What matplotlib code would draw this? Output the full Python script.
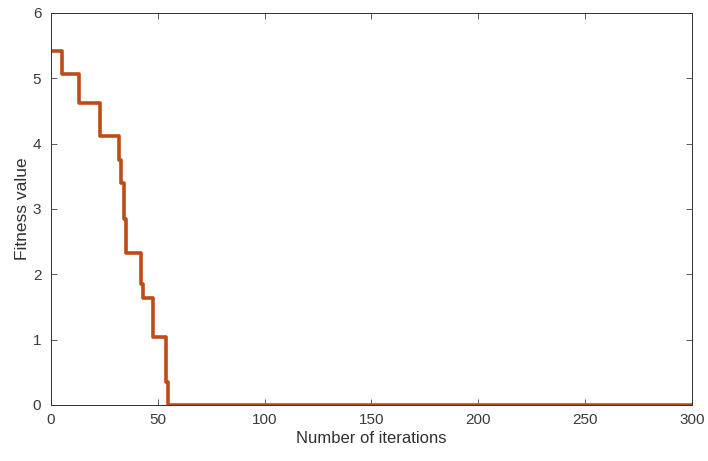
import numpy as np
import matplotlib
matplotlib.use("Agg")
from matplotlib import pyplot as plt

# iteration where a new best value starts, and that value
change_iters = [1, 5, 13, 23, 32, 33, 34, 35, 42, 43, 48, 54, 55]
change_vals = [5.42, 5.07, 4.62, 4.12, 3.75, 3.39, 2.85, 2.32, 1.85, 1.63, 1.04, 0.35, 0.0]
n_iter = 300

iters = np.arange(1, n_iter + 1)
fitness = np.zeros(n_iter)
for it, v in zip(change_iters, change_vals):
    fitness[it - 1:] = v

plt.rcParams['font.family'] = ['Liberation Sans', 'DejaVu Sans']
fig = plt.figure(figsize=(7.08, 4.61), dpi=100)
ax = fig.add_axes([0.072, 0.1215, 0.905, 0.8505])

ax.step(iters, fitness, where='post', color='#BD4C16', lw=2.6)

ax.set_xlim(0, 300)
ax.set_ylim(0, 6)
ax.set_xticks(range(0, 301, 50))
ax.set_yticks(range(0, 7))
ax.tick_params(direction='in', top=True, right=True, length=4, width=0.6,
               colors='#404040', labelsize=11, labelcolor='#3a3a3a')
ax.tick_params(axis='x', pad=6)
ax.tick_params(axis='y', pad=7)
for s in ax.spines.values():
    s.set_color('#303030')
    s.set_linewidth(0.7)
ax.set_xlabel('Number of iterations', fontsize=12, color='#303030', labelpad=3)
ax.set_ylabel('Fitness value', fontsize=12.5, color='#303030', labelpad=2)

fig.savefig('out.png', dpi=100)
